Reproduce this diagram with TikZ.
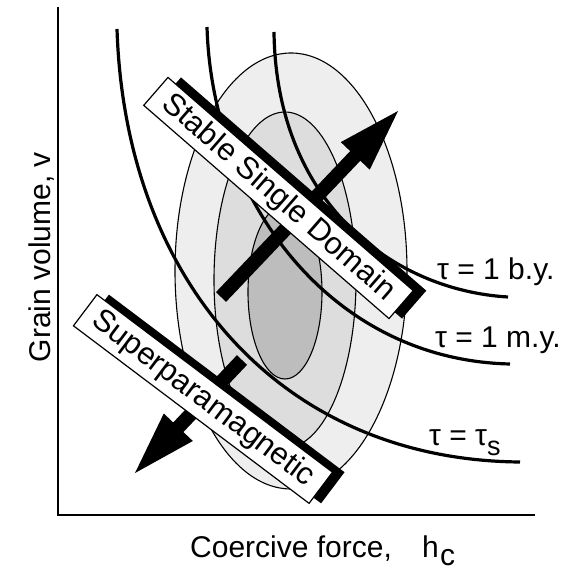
\documentclass[tikz,border=0pt]{standalone}
\usepackage{fontspec}
\setmainfont{Liberation Sans}
\usetikzlibrary{calc}
\definecolor{ellA}{gray}{0.935}
\definecolor{ellB}{gray}{0.865}
\definecolor{ellC}{gray}{0.74}
\begin{document}
\begin{tikzpicture}[x=1pt,y=1pt,
  ellipsebox/.style={draw=black, line width=1.1pt},
  tcurve/.style={draw=black, line width=3.2pt},
  axisline/.style={draw=black, line width=1.6pt},
  labelbox/.style={draw=black, line width=1.2pt, fill=white, inner sep=0pt, font=\fontsize{31}{31}\selectfont},
  shadowbox/.style={fill=black, inner sep=0pt},
  lbl/.style={inner sep=0pt, font=\fontsize{30}{30}\selectfont},
  shaft/.style={draw=black, line width=14pt}]
\useasboundingbox (0,0) rectangle (581,571);

% ellipses
\fill[ellA] (291,300) ellipse [x radius=116, y radius=218];
\draw[ellipsebox] (291,300) ellipse [x radius=116, y radius=218];
\filldraw[ellipsebox, fill=ellB] (285,291) ellipse [x radius=71, y radius=168];
\filldraw[ellipsebox, fill=ellC] (285,279) ellipse [x radius=37, y radius=87];

% relaxation-time curves
\coordinate (s0) at (117,542); \coordinate (s1) at (520,109);
\coordinate (m0) at (207,544); \coordinate (m1) at (510,207);
\coordinate (b0) at (274,539); \coordinate (b1) at (508,274);
\draw[tcurve] (s0) .. controls (125,291) and (280,111) .. (s1);
\draw[tcurve] (m0) .. controls (212,371) and (330,211) .. (m1);
\draw[tcurve] (b0) .. controls (276,371) and (390,281) .. (b1);

% arrows
\coordinate (ta) at (221,274); \coordinate (pa) at (398,460);
\coordinate (ha) at ($(pa)!62pt!(ta)$);
\draw[shaft] (ta) -- ($(pa)!56pt!(ta)$);
\fill (pa) -- ($(ha)!20pt!90:(pa)$) -- ($(ha)!20pt!-90:(pa)$) -- cycle;

\coordinate (tb) at (242,211); \coordinate (pb) at (135,98);
\coordinate (hb) at ($(pb)!63pt!(tb)$);
\draw[shaft] (tb) -- ($(pb)!57pt!(tb)$);
\fill (pb) -- ($(hb)!20pt!90:(pb)$) -- ($(hb)!20pt!-90:(pb)$) -- cycle;

% label boxes with shadows
\node[shadowbox, rotate=-41, minimum width=325pt, minimum height=37pt] (stableshadow) at (291.5,373) {};
\node[labelbox, rotate=-41, minimum width=325pt, minimum height=37pt] (stable) at (278.5,373) {Stable Single Domain};
\node[shadowbox, rotate=-37, minimum width=295pt, minimum height=39pt] (supershadow) at (215,172) {};
\node[labelbox, rotate=-37, minimum width=295pt, minimum height=39pt] (super) at (203,172) {Superparamagnetic};

% axes
\coordinate (ytop) at (58,564); \coordinate (orig) at (58,56); \coordinate (xend) at (535,56);
\draw[axisline] (ytop) -- (orig) -- (xend);

% labels
\node[lbl, anchor=base west] (lby) at (437,291) {τ = 1 b.y.};
\node[lbl, anchor=base west] (lmy) at (435,223) {τ = 1 m.y.};
\node[lbl, anchor=base west] (lts) at (429,126) {τ = τ\raisebox{-10pt}{\fontsize{27}{27}\selectfont s}};
\node[lbl, anchor=base west] (xlab) at (190,14) {Coercive force,};
\node[lbl, anchor=base west] (xh) at (422,14) {h};
\node[lbl, anchor=base west] (xc) at (440,6) {c};
\node[lbl, anchor=base, rotate=90] (ylab) at (50,314) {Grain volume, v};
\end{tikzpicture}
\end{document}
